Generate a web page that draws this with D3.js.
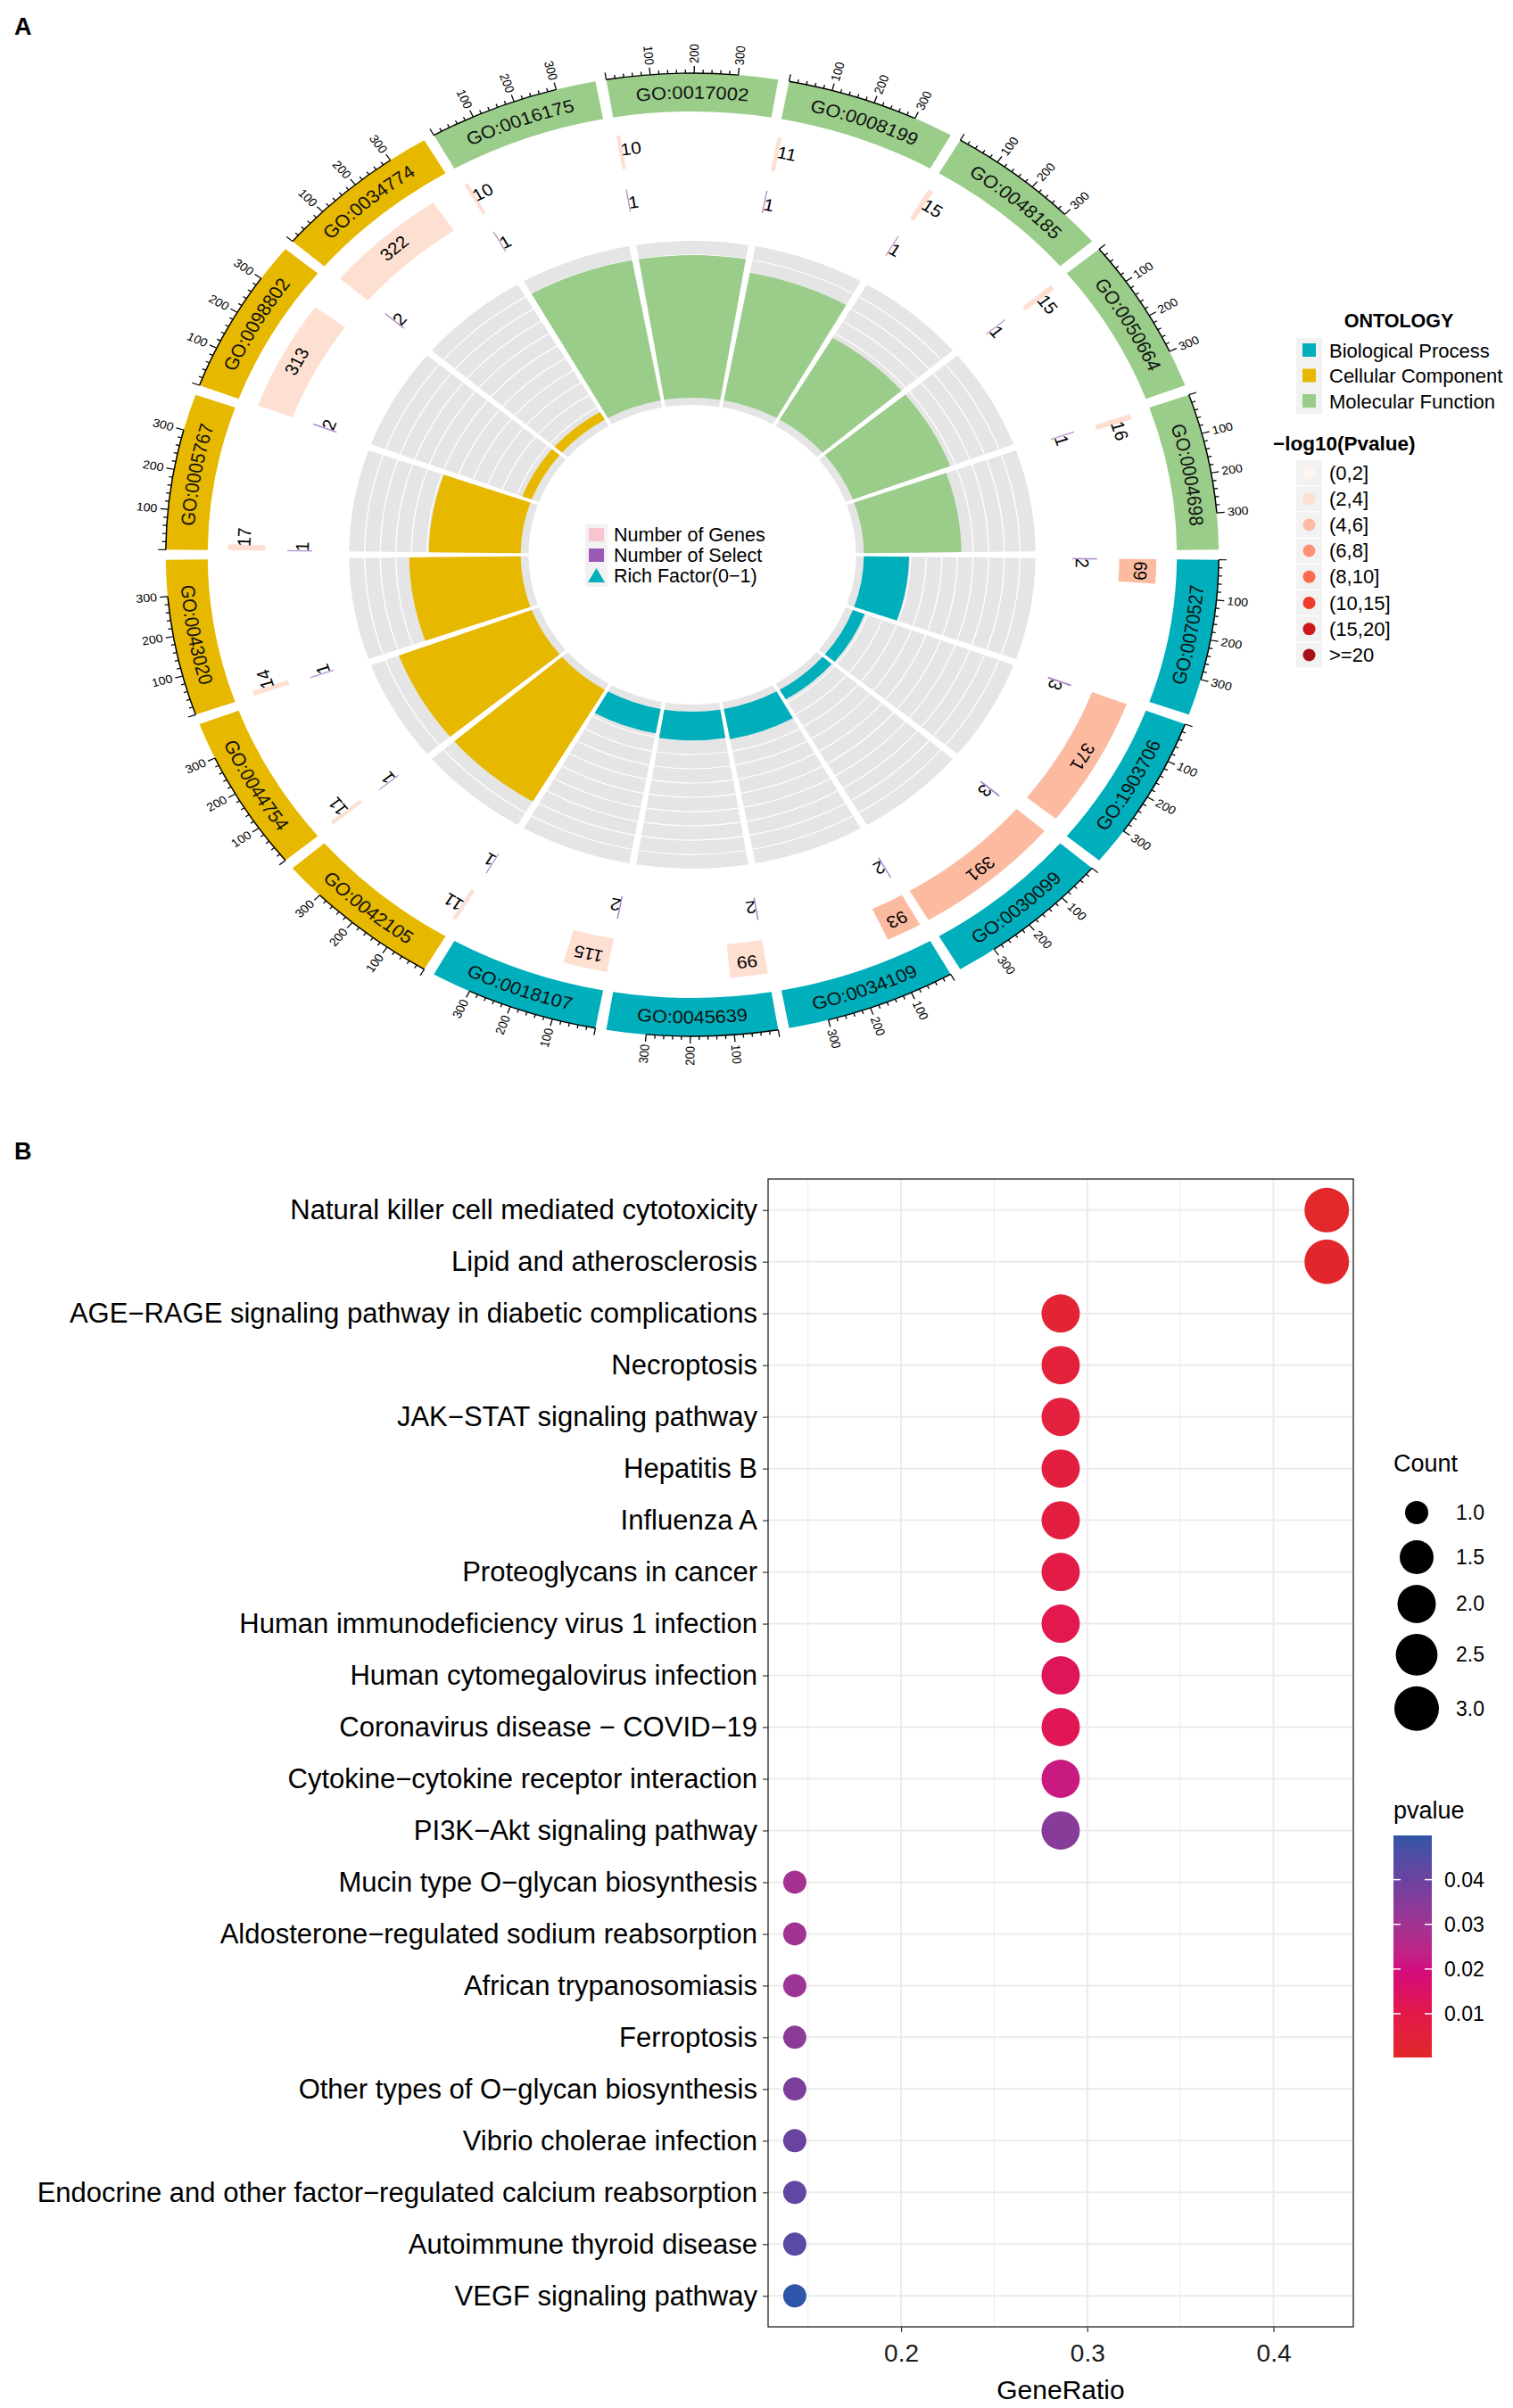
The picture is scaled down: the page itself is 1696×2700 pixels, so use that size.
<!DOCTYPE html>
<html>
<head>
<meta charset="utf-8">
<script src="https://cdn.jsdelivr.net/npm/d3@7"></script>
<style>
  body { margin: 0; background: #fff; }
  svg { font-family: "Liberation Sans", Arial, Helvetica, sans-serif; }
</style>
</head>
<body>
<svg id="fig" width="1696" height="2700"></svg>
<script>
// ---------- panel A data (clockwise from 3 o'clock) ----------
var goIds = ["GO:0070527","GO:1903706","GO:0030099","GO:0034109","GO:0045639","GO:0018107",
             "GO:0042105","GO:0044754","GO:0043020","GO:0005767","GO:0098802","GO:0034774",
             "GO:0016175","GO:0017002","GO:0008199","GO:0048185","GO:0050664","GO:0004698"];
var goOntology = ["BP","BP","BP","BP","BP","BP","CC","CC","CC","CC","CC","CC","MF","MF","MF","MF","MF","MF"];
var goGenes  = [69, 371, 391, 93, 99, 115, 11, 11, 14, 17, 313, 322, 10, 10, 11, 15, 15, 16];
var goSelect = [2, 3, 3, 2, 2, 2, 1, 1, 1, 1, 2, 2, 1, 1, 1, 1, 1, 1];
var goPbin   = [2, 2, 2, 2, 1, 1, 1, 1, 1, 1, 1, 1, 1, 1, 1, 1, 1, 1];   // index into pBinLabels

var ontKeys   = ["BP","CC","MF"];
var ontNames  = ["Biological Process","Cellular Component","Molecular Function"];
var ontColors = ["#00AFBB","#E7B800","#9ACD8A"];
var pBinLabels = ["(0,2]","(2,4]","(4,6]","(6,8]","(8,10]","(10,15]","(15,20]",">=20"];
var axisMajor = [0, 100, 200, 300];
var richGrid  = [0.01,0.02,0.03,0.04,0.05,0.06,0.07,0.08,0.09,0.10];
var centerLegend = ["Number of Genes","Number of Select","Rich Factor(0\u22121)"];

// ---------- panel B data ----------
var pathways = ["Natural killer cell mediated cytotoxicity","Lipid and atherosclerosis",
  "AGE\u2212RAGE signaling pathway in diabetic complications","Necroptosis","JAK\u2212STAT signaling pathway",
  "Hepatitis B","Influenza A","Proteoglycans in cancer","Human immunodeficiency virus 1 infection",
  "Human cytomegalovirus infection","Coronavirus disease \u2212 COVID\u221219","Cytokine\u2212cytokine receptor interaction",
  "PI3K\u2212Akt signaling pathway","Mucin type O\u2212glycan biosynthesis","Aldosterone\u2212regulated sodium reabsorption",
  "African trypanosomiasis","Ferroptosis","Other types of O\u2212glycan biosynthesis","Vibrio cholerae infection",
  "Endocrine and other factor\u2212regulated calcium reabsorption","Autoimmune thyroid disease","VEGF signaling pathway"];
var geneRatio = [0.4286,0.4286,0.2857,0.2857,0.2857,0.2857,0.2857,0.2857,0.2857,0.2857,0.2857,0.2857,0.2857,
                 0.1429,0.1429,0.1429,0.1429,0.1429,0.1429,0.1429,0.1429,0.1429];
var counts = [3,3,2,2,2,2,2,2,2,2,2,2,2,1,1,1,1,1,1,1,1,1];
var pvalues = [0.0002,0.0006,0.0030,0.0050,0.0060,0.0065,0.0070,0.0090,0.0110,0.0130,0.0120,0.0220,0.0350,
               0.0290,0.0300,0.0310,0.0340,0.0370,0.0400,0.0420,0.0440,0.0499];
var xTicks = [0.2, 0.3, 0.4];
var xMinor = [0.15, 0.25, 0.35];
var countLegend = [1.0, 1.5, 2.0, 2.5, 3.0];
var pTicks = [0.01, 0.02, 0.03, 0.04];

var svg = d3.select("#fig");
var rad = Math.PI / 180;

// ================= PANEL A =================
svg.append("text").attr("x", 16).attr("y", 39).attr("font-size", 27).attr("font-weight", "bold").text("A");

var cx = 776, cy = 622, stretchX = 1.093;
var gA = svg.append("g").attr("transform", "translate(" + cx + "," + cy + ") scale(" + stretchX + ",1)");
var defs = gA.append("defs");

var xMax = d3.max(goGenes), gapDeg = 1.2, secDeg = 360 / goIds.length;
function secRange(i) { var s = 90 + i * secDeg + gapDeg / 2; return [s, s + secDeg - gapDeg]; }
var secX = goIds.map(function (d, i) { return d3.scaleLinear().domain([0, xMax]).range(secRange(i)); });
var ontColor = d3.scaleOrdinal().domain(ontKeys).range(ontColors);
var pColor = d3.scaleOrdinal().domain(d3.range(8)).range(d3.schemeReds[9].slice(0, 8));
var arc = d3.arc();
function sector(r0, r1, a0, a1) { return arc({innerRadius: r0, outerRadius: r1, startAngle: a0 * rad, endAngle: a1 * rad}); }
function pt(r, a) { return [r * Math.sin(a * rad), -r * Math.cos(a * rad)]; }

var R = {ringIn: 497, ringOut: 540, geneIn: 438, geneOut: 476, selIn: 390, selOut: 415, richIn: 168, richOut: 352};
var richY = d3.scaleLinear().domain([-0.005, 0.11]).range([R.richIn, R.richOut]);

goIds.forEach(function (id, i) {
  var rg = secRange(i), sx = secX[i];
  var col = ontColor(goOntology[i]);
  var rich = goSelect[i] / goGenes[i];

  // outer coloured ring
  gA.append("path").attr("d", sector(R.ringIn, R.ringOut, rg[0], rg[1])).attr("fill", col);

  // GO label along the arc
  var mid = ((rg[0] + rg[1]) / 2) % 360;
  var bottom = mid > 90 && mid < 270;
  var rt = bottom ? 525.5 : 511.5;
  var p0 = pt(rt, bottom ? rg[1] + 4 : rg[0] - 4), p1 = pt(rt, bottom ? rg[0] - 4 : rg[1] + 4);
  defs.append("path").attr("id", "lab" + i)
    .attr("d", "M" + p0.join(",") + " A" + rt + "," + rt + " 0 0 " + (bottom ? 0 : 1) + " " + p1.join(","));
  gA.append("text").attr("font-size", 20).attr("fill", "#111")
    .append("textPath").attr("href", "#lab" + i).attr("startOffset", "50%").attr("text-anchor", "middle").text(id);

  // axis on the outside
  var a0 = sx(0), a1 = sx(300), ra = R.ringOut;
  var q0 = pt(ra, a0), q1 = pt(ra, a1);
  gA.append("path").attr("d", "M" + q0.join(",") + " A" + ra + "," + ra + " 0 0 1 " + q1.join(","))
    .attr("fill", "none").attr("stroke", "#000").attr("stroke-width", 1.4);
  d3.range(0, 301, 20).forEach(function (v) {
    var major = axisMajor.indexOf(v) >= 0;
    var t0 = pt(ra, sx(v)), t1 = pt(ra + (major ? 8 : 4), sx(v));
    gA.append("line").attr("x1", t0[0]).attr("y1", t0[1]).attr("x2", t1[0]).attr("y2", t1[1])
      .attr("stroke", "#000").attr("stroke-width", 1.2);
  });
  axisMajor.filter(function (v) { return v > 0; }).forEach(function (v) {
    var a = sx(v), am = ((a % 360) + 360) % 360, right = am < 180;
    gA.append("text").attr("font-size", 13)
      .attr("transform", "rotate(" + a + ") translate(0," + (-(ra + 11)) + ") rotate(" + (right ? -90 : 90) + ")")
      .attr("text-anchor", right ? "start" : "end").attr("dominant-baseline", "central").text(v);
  });

  // number of genes track
  gA.append("path").attr("d", sector(R.geneIn, R.geneOut, sx(0), sx(goGenes[i]))).attr("fill", pColor(goPbin[i]));
  var gx = goGenes[i] < 30 ? goGenes[i] + 22 : goGenes[i] / 2;
  gA.append("text").attr("font-size", 19).attr("text-anchor", "middle").attr("dominant-baseline", "central")
    .attr("transform", "rotate(" + sx(gx) + ") translate(0," + (-460) + ")").text(goGenes[i]);

  // number of select track
  gA.append("path").attr("d", sector(R.selIn, R.selOut, sx(0), sx(goSelect[i])))
    .attr("fill", "#9B59B6").attr("stroke", "#A98BC8").attr("stroke-width", 0.7);
  gA.append("text").attr("font-size", 19).attr("text-anchor", "middle").attr("dominant-baseline", "central")
    .attr("transform", "rotate(" + sx(goSelect[i] + 14) + ") translate(0," + (-400) + ")").text(goSelect[i]);

  // rich factor track
  gA.append("path").attr("d", sector(R.richIn, R.richOut, rg[0], rg[1])).attr("fill", "#E5E5E5");
  richGrid.forEach(function (v) {
    var r = richY(v), g0 = pt(r, rg[0]), g1 = pt(r, rg[1]);
    gA.append("path").attr("d", "M" + g0.join(",") + " A" + r + "," + r + " 0 0 1 " + g1.join(","))
      .attr("fill", "none").attr("stroke", "#fff").attr("stroke-width", 1.2);
  });
  gA.append("path").attr("d", sector(richY(0), richY(rich), rg[0], rg[1])).attr("fill", col);
});

// centre legend
var gC = svg.append("g").attr("transform", "translate(656,588)");
centerLegend.forEach(function (t, i) {
  var y = i * 23;
  gC.append("rect").attr("x", 0).attr("y", y).attr("width", 25).attr("height", 24).attr("fill", "#F2F2F2");
  if (i === 0) gC.append("rect").attr("x", 4).attr("y", y + 4).attr("width", 17).attr("height", 15).attr("fill", "#F8C4CE");
  if (i === 1) gC.append("rect").attr("x", 4).attr("y", y + 4).attr("width", 17).attr("height", 15).attr("fill", "#9B59B6");
  if (i === 2) gC.append("path").attr("d", "M12.5," + (y + 3) + " L22," + (y + 19) + " L3," + (y + 19) + "Z").attr("fill", "#00AFBB");
  gC.append("text").attr("x", 32).attr("y", y + 12).attr("dominant-baseline", "central").attr("font-size", 21.5).text(t);
});

// right legends
var gL = svg.append("g");
gL.append("text").attr("x", 1568).attr("y", 367).attr("text-anchor", "middle").attr("font-size", 21.5)
  .attr("font-weight", "bold").text("ONTOLOGY");
ontNames.forEach(function (t, i) {
  var y = 393 + i * 28.5;
  gL.append("rect").attr("x", 1453).attr("y", y - 14).attr("width", 29).attr("height", 28).attr("fill", "#F2F2F2");
  gL.append("rect").attr("x", 1460).attr("y", y - 8).attr("width", 15).attr("height", 15).attr("fill", ontColors[i]);
  gL.append("text").attr("x", 1490).attr("y", y).attr("dominant-baseline", "central").attr("font-size", 22).text(t);
});
gL.append("text").attr("x", 1427).attr("y", 505).attr("font-size", 22.5).attr("font-weight", "bold").text("\u2212log10(Pvalue)");
pBinLabels.forEach(function (t, i) {
  var y = 530 + i * 29.2;
  gL.append("rect").attr("x", 1453).attr("y", y - 14).attr("width", 29).attr("height", 28).attr("fill", "#F2F2F2");
  gL.append("circle").attr("cx", 1467.5).attr("cy", y).attr("r", 7).attr("fill", pColor(i));
  gL.append("text").attr("x", 1490).attr("y", y).attr("dominant-baseline", "central").attr("font-size", 22).text(t);
});

// ================= PANEL B =================
svg.append("text").attr("x", 16).attr("y", 1300).attr("font-size", 27).attr("font-weight", "bold").text("B");

var pb = {left: 861, right: 1517, top: 1322, bottom: 2609};
var x = d3.scaleLinear().domain([0.12857, 0.44286]).range([pb.left, pb.right]);
var y = d3.scalePoint().domain(pathways).range([pb.top, pb.bottom]).padding(0.6);
var pExt = d3.extent(pvalues);
var color = d3.scaleLinear()
  .domain([pExt[0], 0.01, 0.02, 0.03, 0.04, pExt[1]])
  .range(["#E2282B", "#E3194A", "#D20C7E", "#A13393", "#6A42A0", "#2F55A8"])
  .interpolate(d3.interpolateLab);
var cExt = d3.extent(counts);
var rLin = d3.scaleLinear().domain([0, 1]).range([13, 25]);
function sizeR(c) { return rLin(Math.sqrt((c - cExt[0]) / (cExt[1] - cExt[0]))); }

var gB = svg.append("g");
gB.append("rect").attr("x", pb.left).attr("y", pb.top).attr("width", pb.right - pb.left)
  .attr("height", pb.bottom - pb.top).attr("fill", "#fff");
xMinor.forEach(function (v) {
  gB.append("line").attr("x1", x(v)).attr("x2", x(v)).attr("y1", pb.top).attr("y2", pb.bottom)
    .attr("stroke", "#EBEBEB").attr("stroke-width", 1);
});
xTicks.forEach(function (v) {
  gB.append("line").attr("x1", x(v)).attr("x2", x(v)).attr("y1", pb.top).attr("y2", pb.bottom)
    .attr("stroke", "#EBEBEB").attr("stroke-width", 2);
});
pathways.forEach(function (p) {
  gB.append("line").attr("x1", pb.left).attr("x2", pb.right).attr("y1", y(p)).attr("y2", y(p))
    .attr("stroke", "#EBEBEB").attr("stroke-width", 2);
});

gB.selectAll("circle.dot").data(pathways).enter().append("circle").attr("class", "dot")
  .attr("cx", function (d, i) { return x(geneRatio[i]); })
  .attr("cy", function (d) { return y(d); })
  .attr("r", function (d, i) { return sizeR(counts[i]); })
  .attr("fill", function (d, i) { return color(pvalues[i]); });

gB.append("rect").attr("x", pb.left).attr("y", pb.top).attr("width", pb.right - pb.left)
  .attr("height", pb.bottom - pb.top).attr("fill", "none").attr("stroke", "#333").attr("stroke-width", 1.4);

var yAxis = gB.append("g").attr("transform", "translate(" + pb.left + ",0)")
  .call(d3.axisLeft(y).tickSize(6).tickPadding(6));
yAxis.select(".domain").remove();
yAxis.selectAll("text").attr("font-size", 31).attr("fill", "#000").attr("font-family", null);
yAxis.selectAll("line").attr("stroke", "#333").attr("stroke-width", 1.2);

var xAxis = gB.append("g").attr("transform", "translate(0," + pb.bottom + ")")
  .call(d3.axisBottom(x).tickValues(xTicks).tickFormat(d3.format(".1f")).tickSize(6).tickPadding(13));
xAxis.select(".domain").remove();
xAxis.selectAll("text").attr("font-size", 28).attr("fill", "#1a1a1a").attr("font-family", null);
xAxis.selectAll("line").attr("stroke", "#333").attr("stroke-width", 1.2);

gB.append("text").attr("x", (pb.left + pb.right) / 2).attr("y", 2690).attr("text-anchor", "middle")
  .attr("font-size", 30).text("GeneRatio");

// size legend
gB.append("text").attr("x", 1562).attr("y", 1650).attr("font-size", 27).text("Count");
var ky = 1671;
countLegend.forEach(function (c) {
  var r = sizeR(c), h = Math.max(2 * r + 12, 50), yc = ky + h / 2;
  gB.append("circle").attr("cx", 1588).attr("cy", yc).attr("r", r).attr("fill", "#000");
  gB.append("text").attr("x", 1632).attr("y", yc).attr("dominant-baseline", "central").attr("font-size", 23)
    .text(d3.format(".1f")(c));
  ky += h;
});

// colour bar legend
gB.append("text").attr("x", 1562).attr("y", 2039).attr("font-size", 27).text("pvalue");
var cb = {x: 1562, w: 43, top: 2058, bottom: 2307};
var cbY = d3.scaleLinear().domain(pExt).range([cb.bottom, cb.top]);
var grad = svg.append("defs").append("linearGradient").attr("id", "pgrad")
  .attr("x1", 0).attr("y1", 1).attr("x2", 0).attr("y2", 0);
d3.range(0, 1.0001, 0.025).forEach(function (t) {
  grad.append("stop").attr("offset", t).attr("stop-color", color(pExt[0] + t * (pExt[1] - pExt[0])));
});
gB.append("rect").attr("x", cb.x).attr("y", cb.top).attr("width", cb.w).attr("height", cb.bottom - cb.top)
  .attr("fill", "url(#pgrad)");
pTicks.forEach(function (v) {
  var yy = cbY(v);
  gB.append("line").attr("x1", cb.x).attr("x2", cb.x + 8).attr("y1", yy).attr("y2", yy).attr("stroke", "#fff").attr("stroke-width", 1.5);
  gB.append("line").attr("x1", cb.x + cb.w - 8).attr("x2", cb.x + cb.w).attr("y1", yy).attr("y2", yy).attr("stroke", "#fff").attr("stroke-width", 1.5);
  gB.append("text").attr("x", 1619).attr("y", yy).attr("dominant-baseline", "central").attr("font-size", 23)
    .text(d3.format(".2f")(v));
});
</script>
</body>
</html>
